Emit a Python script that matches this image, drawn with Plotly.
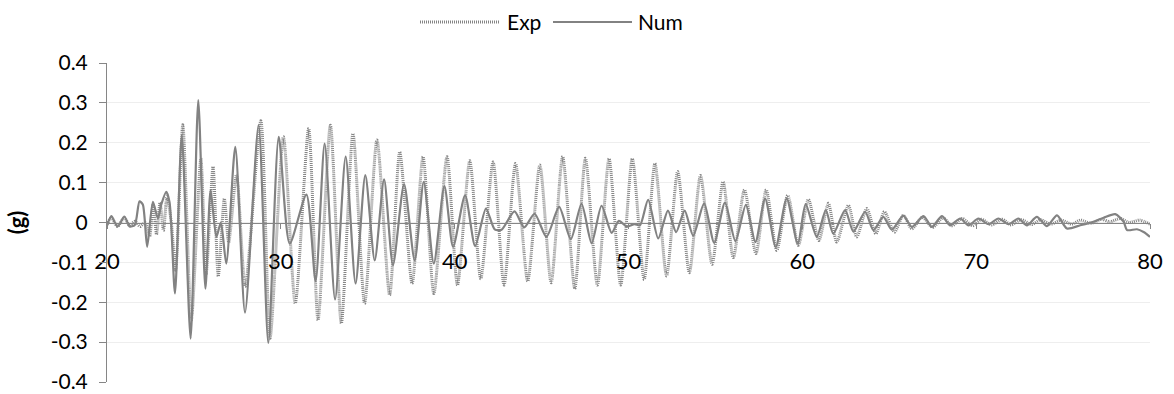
import plotly.graph_objects as go

# ---- data (time in s, acceleration in g) ----
exp_t = [20.0, 20.25, 20.6, 21.0, 21.3, 21.6, 21.9, 22.2, 22.45, 22.65, 22.85, 23.05, 23.25, 23.45,
         23.7, 23.95, 24.36, 24.85, 25.4, 25.7, 26.1, 26.4, 26.75, 27.0, 27.45, 27.95, 28.85, 29.38,
         30.15, 30.83, 31.60, 32.14, 32.85, 33.48, 34.15, 34.82, 35.53, 36.26, 36.84, 37.55, 38.18,
         38.80, 39.56, 40.16, 40.87, 41.50, 42.21, 42.84, 43.50, 44.20, 44.90, 45.55, 46.21, 46.91,
         47.52, 48.21, 48.88, 49.55, 50.22, 50.90, 51.52, 52.19, 52.83, 53.50, 54.14, 54.81, 55.44,
         56.03, 56.67, 57.33, 57.92, 58.53, 59.16, 59.77, 60.35, 60.95, 61.50, 61.98, 62.65, 63.13,
         63.71, 64.23, 64.72, 65.30, 65.81, 66.3, 66.9, 67.5, 68.1, 68.6, 69.2, 69.8, 70.3, 70.9,
         71.5, 72.0, 72.6, 73.2, 73.7, 74.3, 74.9, 75.5, 76.0, 76.6, 77.2, 77.7, 78.3, 78.8, 79.4, 80.0]
exp_g = [-0.005, 0.012, -0.01, 0.012, -0.008, 0.003, -0.01, 0.0, -0.035, 0.045, -0.03, 0.05, -0.02, 0.065,
         0.0, -0.12, 0.245, -0.245, 0.16, -0.13, 0.14, -0.135, 0.06, -0.05, 0.12, -0.16, 0.255, -0.29,
         0.215, -0.203, 0.236, -0.245, 0.244, -0.253, 0.223, -0.203, 0.207, -0.182, 0.177, -0.153, 0.165,
         -0.178, 0.165, -0.157, 0.155, -0.141, 0.152, -0.157, 0.148, -0.147, 0.144, -0.151, 0.165, -0.166,
         0.161, -0.157, 0.160, -0.157, 0.160, -0.143, 0.148, -0.134, 0.128, -0.126, 0.118, -0.105, 0.102,
         -0.088, 0.082, -0.078, 0.082, -0.070, 0.068, -0.057, 0.058, -0.045, 0.048, -0.049, 0.043, -0.036,
         0.035, -0.028, 0.027, -0.024, 0.018, -0.016, 0.013, -0.012, 0.012, -0.008, 0.01, -0.008, 0.008, -0.006,
         0.008, -0.006, 0.007, -0.005, 0.007, -0.004, 0.006, -0.004, 0.006, -0.002, 0.008, 0.002, 0.01, 0.0, 0.006, -0.004]

num_t = [20.0, 20.25, 20.6, 21.0, 21.3, 21.6, 21.87, 22.06, 22.31, 22.64, 22.93, 23.12, 23.41, 23.6,
         23.91, 24.3, 24.81, 25.25, 25.66, 25.96, 26.29, 26.55, 26.86, 27.38, 27.94, 28.72, 29.28, 29.88,
         30.51, 31.47, 32.0, 32.52, 33.12, 33.73, 34.3, 34.86, 35.40, 35.94, 36.45, 37.09, 37.70, 38.22,
         38.80, 39.41, 39.91, 40.6, 41.18, 41.8, 42.3, 42.7, 43.44, 44.0, 44.6, 45.28, 46.01, 46.68, 47.30,
         47.88, 48.45, 49.03, 49.45, 49.9, 50.35, 50.66, 51.13, 51.71, 52.27, 52.74, 53.23, 53.72, 54.35,
         54.93, 55.55, 56.15, 56.75, 57.3, 57.86, 58.47, 59.10, 59.74, 60.19, 60.83, 61.35, 61.78, 62.46,
         62.94, 63.61, 64.09, 64.66, 65.15, 65.81, 66.30, 66.97, 67.45, 68.03, 68.50, 69.08, 69.56, 70.13,
         70.71, 71.28, 71.86, 72.43, 72.92, 73.49, 74.07, 74.65, 75.22, 75.99, 76.75, 77.33, 78.00, 78.48,
         78.68, 79.25, 79.63, 80.0]
num_g = [-0.008, 0.016, -0.01, 0.015, -0.01, -0.006, 0.053, 0.045, -0.061, 0.052, 0.01, 0.045, 0.077, 0.05,
         -0.178, 0.22, -0.291, 0.307, -0.166, 0.081, -0.036, 0.0, -0.103, 0.19, -0.226, 0.244, -0.302, 0.215,
         -0.053, 0.07, -0.147, 0.198, -0.193, 0.165, -0.153, 0.119, -0.095, 0.108, -0.107, 0.096, -0.095, 0.102,
         -0.103, 0.091, -0.061, 0.068, -0.059, 0.035, -0.017, -0.018, 0.028, -0.012, 0.022, -0.036, 0.039, -0.042, 0.047,
         -0.052, 0.042, -0.026, 0.004, -0.01, -0.004, -0.007, 0.057, -0.04, 0.03, -0.024, 0.03, -0.033, 0.048,
         -0.051, 0.05, -0.047, 0.044, -0.049, 0.06, -0.061, 0.06, -0.053, 0.046, -0.036, 0.031, -0.028, 0.031,
         -0.023, 0.027, -0.019, 0.014, -0.018, 0.017, -0.011, 0.016, -0.011, 0.016, -0.007, 0.010, -0.007, 0.010,
         -0.004, 0.010, -0.004, 0.010, -0.007, 0.014, -0.009, 0.018, -0.015, -0.007, 0.002, 0.012, 0.021, 0.002,
         -0.019, -0.017, -0.024, -0.036]

series_names = ["Exp", "Num"]
x_ticks = [20, 30, 40, 50, 60, 70, 80]
y_ticks = [-0.4, -0.3, -0.2, -0.1, 0, 0.1, 0.2, 0.3, 0.4]
y_tick_labels = ["-0.4", "-0.3", "-0.2", "-0.1", "0", "0.1", "0.2", "0.3", "0.4"]

FONT = "Lato, 'Open Sans', sans-serif"
AXIS_GRAY = "#868686"
EXP_LINE = dict(color="#858585", width=3, dash="1px,1px")
NUM_LINE = dict(color="#828282", width=2.2)

fig = go.Figure()
fig.add_trace(go.Scatter(
    x=exp_t, y=exp_g, name=series_names[0], mode="lines", showlegend=False,
    line=dict(**EXP_LINE, shape="spline", smoothing=0.7),
))
fig.add_trace(go.Scatter(
    x=num_t, y=num_g, name=series_names[1], mode="lines", showlegend=False,
    line=dict(**NUM_LINE, shape="spline", smoothing=0.7),
))

# legend drawn as line samples + labels above the plot (paper coordinates)
PLOT_L, PLOT_W, PLOT_T, PLOT_H = 107, 1043, 63, 319
def px_to_paper_x(px):
    return (px - PLOT_L) / PLOT_W
leg_y = 1 + (PLOT_T - 22) / PLOT_H
legend_items = [(series_names[0], EXP_LINE, 420, 500, 505), (series_names[1], NUM_LINE, 553, 632, 636)]
for name, ln, x0, x1, xt in legend_items:
    fig.add_shape(type="line", xref="paper", yref="paper",
                  x0=px_to_paper_x(x0), x1=px_to_paper_x(x1), y0=leg_y, y1=leg_y,
                  line=ln)
    fig.add_annotation(xref="paper", yref="paper", x=px_to_paper_x(xt), y=leg_y,
                       text=name, showarrow=False, xanchor="left", yanchor="middle",
                       font=dict(size=21, color="#000000"))

fig.update_layout(
    width=1174, height=394,
    margin=dict(l=PLOT_L, r=24, t=PLOT_T, b=12, autoexpand=False),
    paper_bgcolor="white", plot_bgcolor="white",
    font=dict(family=FONT, size=21, color="#000000"),
    showlegend=False,
    xaxis=dict(
        range=[20, 80], tickvals=x_ticks, ticktext=[str(v) for v in x_ticks],
        anchor="free", position=0.5, showline=True, linecolor=AXIS_GRAY, linewidth=1,
        ticks="outside", ticklen=5, tickcolor=AXIS_GRAY, showgrid=False, zeroline=False,
        tickfont=dict(size=22), ticklabelstandoff=14, automargin=False,
    ),
    yaxis=dict(
        range=[-0.4, 0.4], tickvals=y_ticks, ticktext=y_tick_labels,
        showline=True, linecolor=AXIS_GRAY, linewidth=1, ticks="outside", ticklen=7,
        tickcolor=AXIS_GRAY, showgrid=True, gridcolor="#eeeeee", gridwidth=1,
        zeroline=False, ticklabelstandoff=7, automargin=False,
        title=dict(text="<b>(g)</b>", font=dict(size=22), standoff=18),
    ),
)

fig.write_html("out.html")
